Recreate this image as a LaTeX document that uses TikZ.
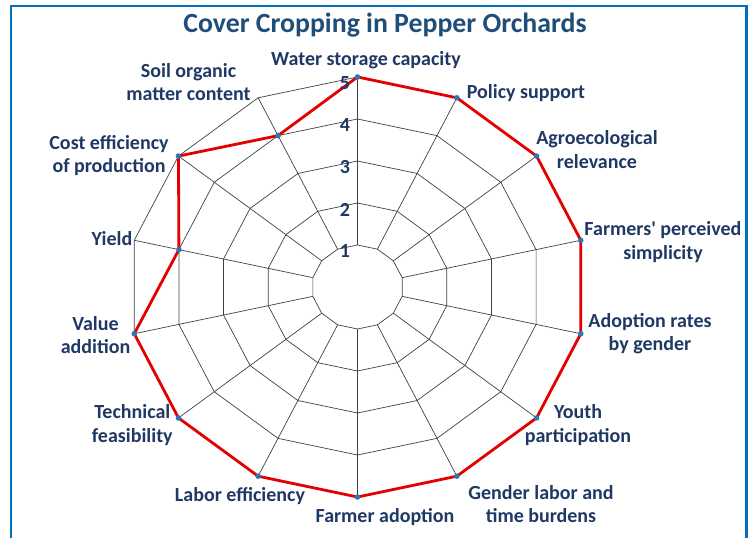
\documentclass[tikz,border=0pt]{standalone}
\usepackage{fontspec}
\setmainfont{Carlito}
\definecolor{framecol}{RGB}{0,112,192}
\definecolor{textcol}{RGB}{31,56,100}
\definecolor{titlecol}{RGB}{31,78,121}
\definecolor{dotcol}{RGB}{46,117,182}
\definecolor{linecol}{RGB}{226,0,0}
\definecolor{webcol}{RGB}{64,64,64}

\begin{document}
\begin{tikzpicture}[x=1pt,y=1pt,
  lab/.style={text=textcol,font=\bfseries\fontsize{20}{23.3}\selectfont,align=center,inner sep=0pt},
  web/.style={webcol,line width=0.7pt},
  series/.style={linecol,line width=2.8pt,line join=round},
  marker/.style={fill=dotcol}]
\useasboundingbox (0,0) rectangle (754,538);
\draw [framecol,line width=2.2pt] (11,0) -- (11,532) -- (746.5,532) -- (746.5,0);
\node (title) [text=titlecol,font=\bfseries\fontsize{27.8}{32}\selectfont,inner sep=0pt] at (385,513) {Cover Cropping in Pepper Orchards};

\begin{scope}[shift={(357.5,251)},x=45.8pt,y=42pt]
\foreach \i in {0,...,13}
  \foreach \r in {1,...,5}
    \coordinate (g\i-\r) at ({90-\i*360/14}:\r);
\foreach \r in {1,...,5}
  \draw [web] (g0-\r) \foreach \i in {1,...,13} {-- (g\i-\r)} -- cycle;
\foreach \i in {0,...,13}
  \draw [web] (g\i-1) -- (g\i-5);
\foreach \v [count=\i from 0] in {5,5,5,5,5,5,5,5,5,5,5,4,5,4}
  \coordinate (d\i) at ({90-\i*360/14}:\v);
\draw [series] (d0) \foreach \i in {1,...,13} {-- (d\i)} -- cycle;
\foreach \i in {0,...,13}
  \fill [marker] (d\i) circle (2.8pt);
\foreach \r in {1,...,5}
  \node (n\r) [lab] at ([xshift=-12.5pt,yshift=-6.5pt]g0-\r) {\r};
\end{scope}

\node (water) [lab] at (366,478) {Water storage capacity};
\node (policy) [lab] at (526,445.3) {Policy support};
\node (agro) [lab] at (597,388.5) {Agroecological\\relevance};
\node (simple) [lab] at (663,296) {Farmers\textquotesingle{} perceived\\simplicity};
\node (gender) [lab] at (650,204.5) {Adoption rates\\by gender};
\node (youth) [lab] at (578,113) {Youth\\participation};
\node (burden) [lab] at (541,34) {Gender labor and\\time burdens};
\node (adopt) [lab] at (385,20.7) {Farmer adoption};
\node (labor) [lab] at (240,42) {Labor efficiency};
\node (tech) [lab] at (132.3,113) {Technical\\feasibility};
\node (value) [lab] at (95.5,203) {Value\\addition};
\node (yield) [lab] at (112,299) {Yield};
\node (cost) [lab] at (109,382.5) {Cost efficiency\\of production};
\node (soil) [lab] at (188.5,456) {Soil organic\\matter content};
\end{tikzpicture}
\end{document}
